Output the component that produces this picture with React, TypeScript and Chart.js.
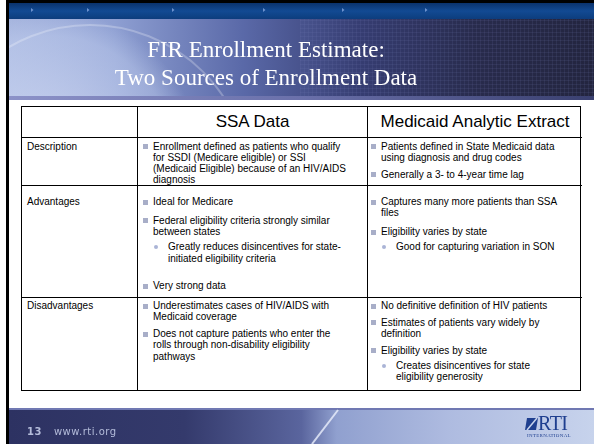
import React, { useEffect, useRef } from "react";
import { Chart, registerables } from "chart.js";

Chart.register(...registerables);

type Item = { text: string; level: number };

const TITLE_LINES = ["FIR Enrollment Estimate:", "Two Sources of Enrollment Data"];
const COLUMN_HEADERS = ["", "SSA Data", "Medicaid Analytic Extract"];
const ROW_LABELS = ["Description", "Advantages", "Disadvantages"];

const ssaDescription: Item[] = [
  { text: "Enrollment defined as patients who qualify\nfor SSDI (Medicare eligible) or SSI\n(Medicaid Eligible) because of an HIV/AIDS\ndiagnosis", level: 0 },
];
const ssaAdvantages: Item[] = [
  { text: "Ideal for Medicare", level: 0 },
  { text: "Federal eligibility criteria strongly similar\nbetween states", level: 0 },
  { text: "Greatly reduces disincentives for state-\ninitiated eligibility criteria", level: 1 },
  { text: "", level: -1 },
  { text: "Very strong data", level: 0 },
];
const ssaDisadvantages: Item[] = [
  { text: "Underestimates cases of HIV/AIDS with\nMedicaid coverage", level: 0 },
  { text: "Does not capture patients who enter the\nrolls through non-disability eligibility\npathways", level: 0 },
];
const maxDescription: Item[] = [
  { text: "Patients defined in State Medicaid data\nusing diagnosis and drug codes", level: 0 },
  { text: "Generally a 3- to 4-year time lag", level: 0 },
];
const maxAdvantages: Item[] = [
  { text: "Captures many more patients than SSA\nfiles", level: 0 },
  { text: "Eligibility varies by state", level: 0 },
  { text: "Good for capturing variation in SON", level: 1 },
];
const maxDisadvantages: Item[] = [
  { text: "No definitive definition of HIV patients", level: 0 },
  { text: "Estimates of patients vary widely by\ndefinition", level: 0 },
  { text: "Eligibility varies by state", level: 0 },
  { text: "Creates disincentives for state\neligibility generosity", level: 1 },
];

const SSA_CELLS = [ssaDescription, ssaAdvantages, ssaDisadvantages];
const MAX_CELLS = [maxDescription, maxAdvantages, maxDisadvantages];

const SLIDE_NUMBER = "13";
const FOOTER_URL = "www.rti.org";
const ARROW_MARKS = [31, 87, 172, 263, 342, 425];

const SANS = '"Liberation Sans", Arial, sans-serif';
const SERIF = '"Liberation Serif", "Times New Roman", serif';

const LINE_H = 11.3;

function drawSlide(ctx: CanvasRenderingContext2D) {
  ctx.save();
  ctx.fillStyle = "#ffffff";
  ctx.fillRect(0, 0, 594, 444);

  let g = ctx.createLinearGradient(0, 3, 0, 19);
  g.addColorStop(0, "#0a326c");
  g.addColorStop(0.5, "#124a93");
  g.addColorStop(1, "#0d3d7d");
  ctx.fillStyle = g;
  ctx.fillRect(9, 3, 585, 16);
  ctx.fillStyle = "#6d93d0";
  ARROW_MARKS.forEach((x) => {
    ctx.beginPath();
    ctx.moveTo(x, 8);
    ctx.lineTo(x, 12);
    ctx.lineTo(x + 2.5, 10);
    ctx.closePath();
    ctx.fill();
  });

  g = ctx.createLinearGradient(9, 0, 594, 0);
  g.addColorStop(0, "#a4b3dd");
  g.addColorStop(0.18, "#8e9fd2");
  g.addColorStop(0.4, "#5a69a8");
  g.addColorStop(0.6, "#363d72");
  g.addColorStop(0.8, "#282b4c");
  g.addColorStop(1, "#23253f");
  ctx.fillStyle = g;
  ctx.fillRect(9, 19, 585, 78);

  ctx.save();
  ctx.beginPath();
  ctx.rect(9, 19, 585, 78);
  ctx.clip();
  const rg = ctx.createRadialGradient(50, 160, 20, 50, 160, 150);
  rg.addColorStop(0, "rgba(235,240,255,0.55)");
  rg.addColorStop(0.8, "rgba(210,222,248,0.35)");
  rg.addColorStop(1, "rgba(210,222,248,0)");
  ctx.fillStyle = rg;
  ctx.beginPath();
  ctx.arc(50, 160, 150, 0, Math.PI * 2);
  ctx.fill();
  ctx.strokeStyle = "rgba(255,255,255,0.25)";
  ctx.lineWidth = 2;
  ctx.beginPath();
  ctx.arc(90, 185, 160, 0, Math.PI * 2);
  ctx.stroke();
  ctx.strokeStyle = "rgba(120,130,190,0.12)";
  ctx.lineWidth = 1;
  for (let x = 300.5; x < 594; x += 4) {
    ctx.beginPath();
    ctx.moveTo(x, 19);
    ctx.lineTo(x, 97);
    ctx.stroke();
  }
  for (let y = 20.5; y < 97; y += 4) {
    ctx.beginPath();
    ctx.moveTo(300, y);
    ctx.lineTo(594, y);
    ctx.stroke();
  }
  ctx.restore();

  g = ctx.createLinearGradient(9, 0, 594, 0);
  g.addColorStop(0, "#8c92c8");
  g.addColorStop(0.5, "#6a70aa");
  g.addColorStop(1, "#3a4070");
  ctx.fillStyle = g;
  ctx.fillRect(9, 96, 585, 4);

  g = ctx.createLinearGradient(9, 0, 594, 0);
  g.addColorStop(0, "#2d3262");
  g.addColorStop(0.3, "#343a6c");
  g.addColorStop(0.5, "#5a659e");
  g.addColorStop(0.56, "#90a0cf");
  g.addColorStop(0.75, "#aebbe0");
  g.addColorStop(1, "#c7d3ec");
  ctx.fillStyle = g;
  ctx.fillRect(9, 408, 585, 36);
  ctx.fillStyle = "#7078b2";
  ctx.fillRect(9, 408, 585, 2);
  ctx.strokeStyle = "rgba(235,240,252,0.8)";
  ctx.lineWidth = 2;
  ctx.beginPath();
  ctx.moveTo(312, 444);
  ctx.lineTo(338, 410);
  ctx.stroke();

  ctx.fillStyle = "#1f3f8f";
  ctx.beginPath();
  ctx.moveTo(527, 418);
  ctx.lineTo(538, 418);
  ctx.lineTo(536, 430);
  ctx.lineTo(525, 430);
  ctx.closePath();
  ctx.fill();
  ctx.strokeStyle = "#c7d3ec";
  ctx.lineWidth = 1.5;
  ctx.beginPath();
  ctx.moveTo(527, 430);
  ctx.lineTo(537, 418);
  ctx.stroke();

  ctx.fillStyle = "#000000";
  ctx.fillRect(6, 0, 588, 3);
  ctx.fillRect(6, 0, 3, 444);
  ctx.restore();
}

const slidePlugin = {
  id: "slideBackground",
  beforeDraw(chart: any) {
    drawSlide(chart.ctx);
  },
};

function Bullet({ item, first, gap }: { item: Item; first: boolean; gap: number }) {
  if (item.level < 0) return <div style={{ height: 9 }} />;
  const sub = item.level === 1;
  return (
    <div
      style={{
        position: "relative",
        paddingLeft: sub ? 25 : 10,
        marginTop: first ? 0 : sub ? 4 : gap,
        whiteSpace: "pre-line",
        lineHeight: LINE_H + "px",
        fontSize: 10,
      }}
    >
      <span
        style={{
          position: "absolute",
          left: sub ? 11 : 0,
          top: sub ? 4 : 3.5,
          width: sub ? 4 : 5,
          height: sub ? 4 : 5,
          borderRadius: sub ? "50%" : 0,
          background: sub ? "#aab4d6" : "#a8aec8",
        }}
      />
      {item.text}
    </div>
  );
}

export default function App() {
  const canvasRef = useRef<HTMLCanvasElement>(null);

  useEffect(() => {
    const canvas = canvasRef.current;
    if (!canvas) return;
    const chart = new Chart(canvas, {
      type: "scatter",
      data: { datasets: [] },
      options: {
        animation: false,
        responsive: false,
        devicePixelRatio: 1,
        layout: { padding: 0 },
        plugins: { legend: { display: false }, tooltip: { enabled: false } },
        scales: { x: { display: false }, y: { display: false } },
      },
      plugins: [slidePlugin],
    } as any);
    return () => chart.destroy();
  }, []);

  const colW = [116, 230, 214];
  const rowH = [31, 48, 112, 93];
  const rowPad = [2.5, 10, 2];
  const rowGap = [5.7, 7.5, 5.5];
  const cellBase: React.CSSProperties = {
    borderRight: "1px solid #000",
    borderBottom: "1px solid #000",
    boxSizing: "border-box",
    color: "#000",
    fontFamily: SANS,
  };

  return (
    <div
      style={{
        position: "fixed",
        left: 0,
        top: 0,
        width: 594,
        height: 444,
        overflow: "hidden",
        background: "#fff",
      }}
    >
      <canvas ref={canvasRef} width={594} height={444} style={{ position: "absolute", left: 0, top: 0, width: 594, height: 444 }} />

      <div
        style={{
          position: "absolute",
          left: 16,
          top: 36,
          width: 500,
          textAlign: "center",
          color: "#ffffff",
          fontFamily: SERIF,
          fontSize: 23,
          lineHeight: "27.5px",
          whiteSpace: "nowrap",
        }}
      >
        {TITLE_LINES.map((t, i) => (
          <div key={i}>{t}</div>
        ))}
      </div>

      <div
        style={{
          position: "absolute",
          left: 21,
          top: 106,
          width: 560,
          height: 285,
          border: "1.5px solid #000",
          boxSizing: "border-box",
          display: "grid",
          gridTemplateColumns: colW.map((w) => w + "px").join(" "),
          gridTemplateRows: rowH.map((h) => h + "px").join(" "),
          background: "#fff",
        }}
      >
        {COLUMN_HEADERS.map((h, i) => (
          <div
            key={"h" + i}
            style={{
              ...cellBase,
              borderRight: i === 2 ? "none" : cellBase.borderRight,
              display: "flex",
              alignItems: "center",
              justifyContent: "center",
              fontSize: 17,
            }}
          >
            {h}
          </div>
        ))}
        {ROW_LABELS.map((label, r) => {
          const last = r === ROW_LABELS.length - 1;
          const pt = rowPad[r];
          return (
            <React.Fragment key={"r" + r}>
              <div
                style={{
                  ...cellBase,
                  borderBottom: last ? "none" : cellBase.borderBottom,
                  padding: `${pt}px 0 0 5px`,
                  fontSize: 10,
                  lineHeight: LINE_H + "px",
                }}
              >
                {label}
              </div>
              <div
                style={{
                  ...cellBase,
                  borderBottom: last ? "none" : cellBase.borderBottom,
                  padding: `${pt}px 2px 0 5px`,
                }}
              >
                {SSA_CELLS[r].map((it, k) => (
                  <Bullet key={k} item={it} first={k === 0} gap={rowGap[r]} />
                ))}
              </div>
              <div
                style={{
                  ...cellBase,
                  borderRight: "none",
                  borderBottom: last ? "none" : cellBase.borderBottom,
                  padding: `${pt}px 2px 0 3px`,
                }}
              >
                {MAX_CELLS[r].map((it, k) => (
                  <Bullet key={k} item={it} first={k === 0} gap={rowGap[r]} />
                ))}
              </div>
            </React.Fragment>
          );
        })}
      </div>

      <div
        style={{
          position: "absolute",
          left: 27,
          top: 426,
          color: "#b4bcda",
          fontFamily: '"DejaVu Sans", sans-serif',
          fontSize: 10,
          lineHeight: "12px",
          letterSpacing: 0.5,
          whiteSpace: "nowrap",
        }}
      >
        <span style={{ fontWeight: "bold" }}>{SLIDE_NUMBER}</span>
        <span style={{ marginLeft: 12 }}>{FOOTER_URL}</span>
      </div>
      <div
        style={{
          position: "absolute",
          left: 538,
          top: 413,
          color: "#1f3f8f",
          fontFamily: SERIF,
          fontSize: 20,
          lineHeight: "20px",
          letterSpacing: -0.5,
        }}
      >
        RTI
      </div>
      <div
        style={{
          position: "absolute",
          left: 527,
          top: 433,
          color: "#1f3f8f",
          fontFamily: SERIF,
          fontSize: 5,
          lineHeight: "5px",
          letterSpacing: 0.3,
        }}
      >
        INTERNATIONAL
      </div>
    </div>
  );
}
